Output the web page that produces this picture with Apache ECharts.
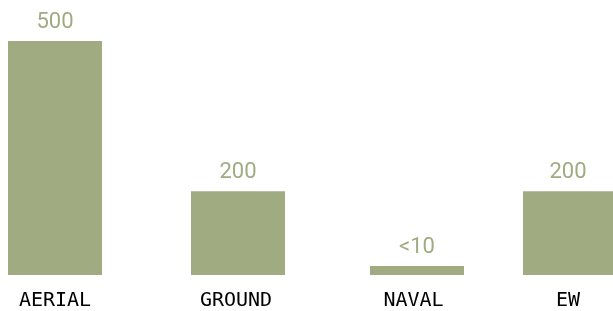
<!DOCTYPE html>
<html>
<head>
<meta charset="utf-8">
<script src="https://cdn.jsdelivr.net/npm/echarts@6/dist/echarts.min.js"></script>
<style>
  html, body { margin: 0; padding: 0; background: #fff; }
  #main { width: 613px; height: 311px; }
</style>
</head>
<body>
<div id="main"></div>
<script>
var categories = ["AERIAL", "GROUND", "NAVAL", "EW"];
var values = [500, 179, 19, 179];
var valueLabels = ["500", "200", "<10", "200"];

function initializeChart() {
    var chart = echarts.init(document.getElementById("main"));

    // each bar gets its own grid, the columns are not evenly spaced
    var gridLefts = [8, 191, 370, 523];
    // small nudges so the names sit where the original puts them
    var namePadding = [[0, 0, 0, 0], [0, 4, 0, 0], [0, 7, 0, 0], [0, 0, 0, 0]];
    var barColor = "#a1ab82";

    var grids = [], xAxes = [], yAxes = [], series = [];
    categories.forEach(function (name, i) {
        grids.push({ left: gridLefts[i], width: 94, top: 41, bottom: 35 });
        xAxes.push({
            type: "category",
            gridIndex: i,
            data: [name],
            axisLine: { show: false },
            axisTick: { show: false },
            axisLabel: {
                margin: 16,
                color: "#000",
                fontFamily: "DejaVu Sans Mono",
                fontSize: 20,
                padding: namePadding[i],
            },
        });
        yAxes.push({
            type: "value",
            gridIndex: i,
            min: 0,
            max: 500,
            show: false,
        });
        series.push({
            type: "bar",
            xAxisIndex: i,
            yAxisIndex: i,
            barWidth: "100%",
            itemStyle: { color: barColor },
            label: {
                show: true,
                position: "top",
                distance: 8,
                color: barColor,
                fontFamily: "Roboto",
                fontSize: 22,
                formatter: function () { return valueLabels[i]; },
            },
            data: [values[i]],
        });
    });

    var options = {
        animation: false,
        backgroundColor: "#fff",
        grid: grids,
        xAxis: xAxes,
        yAxis: yAxes,
        series: series,
    };

    chart.setOption(options);
}

initializeChart();
</script>
</body>
</html>
